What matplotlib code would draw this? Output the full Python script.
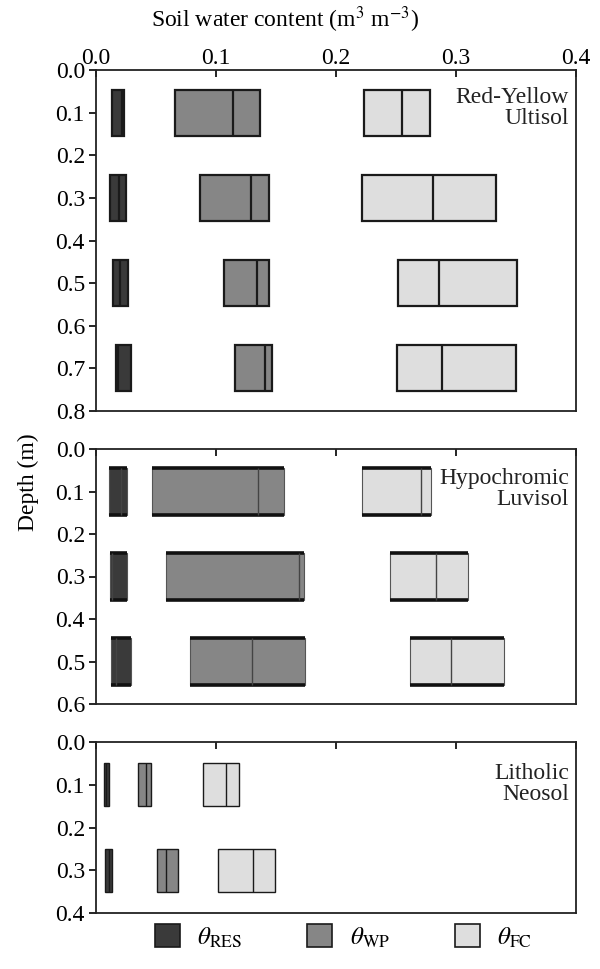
import matplotlib
matplotlib.use("Agg")
import matplotlib.pyplot as plt
from matplotlib.patches import Patch
import numpy as np

plt.rcParams['font.family'] = ['Liberation Serif', 'DejaVu Serif']
plt.rcParams['mathtext.fontset'] = 'stix'

# ---- data (q1, median, q3) per soil, per depth ----
soils = ["Red-Yellow\nUltisol", "Hypochromic\nLuvisol", "Litholic\nNeosol"]
depths_ultisol = [0.1, 0.3, 0.5, 0.7]
depths_luvisol = [0.1, 0.3, 0.5]
depths_neosol = [0.1, 0.3]

ultisol_res = [(0.013, 0.022, 0.023), (0.012, 0.019, 0.025), (0.014, 0.020, 0.027), (0.017, 0.018, 0.029)]
ultisol_wp = [(0.066, 0.114, 0.137), (0.087, 0.129, 0.144), (0.107, 0.134, 0.144), (0.116, 0.141, 0.147)]
ultisol_fc = [(0.223, 0.255, 0.278), (0.222, 0.281, 0.333), (0.252, 0.286, 0.351), (0.251, 0.288, 0.350)]

luvisol_res = [(0.011, 0.021, 0.026), (0.012, 0.013, 0.026), (0.0125, 0.017, 0.029)]
luvisol_wp = [(0.047, 0.135, 0.157), (0.058, 0.169, 0.173), (0.078, 0.130, 0.174)]
luvisol_fc = [(0.222, 0.271, 0.279), (0.245, 0.283, 0.310), (0.262, 0.296, 0.340)]

neosol_res = [(0.0067, 0.0085, 0.0106), (0.0075, 0.011, 0.0133)]
neosol_wp = [(0.035, 0.042, 0.046), (0.051, 0.058, 0.068)]
neosol_fc = [(0.089, 0.108, 0.119), (0.102, 0.131, 0.149)]

depth_limits = [0.8, 0.6, 0.4]
xticks = [0.0, 0.1, 0.2, 0.3, 0.4]
legend_labels = [r'$\theta_{\mathrm{RES}}$', r'$\theta_{\mathrm{WP}}$', r'$\theta_{\mathrm{FC}}$']
colors = ['#3a3a3a', '#868686', '#dedede']

panels = [
    (depths_ultisol, [ultisol_res, ultisol_wp, ultisol_fc]),
    (depths_luvisol, [luvisol_res, luvisol_wp, luvisol_fc]),
    (depths_neosol, [neosol_res, neosol_wp, neosol_fc]),
]

W, H = 600, 969
fig = plt.figure(figsize=(W / 100, H / 100), dpi=100)

ax_px = [(70, 411), (449, 704), (742, 913)]
left_px, right_px = 96, 576
label_top = [0.95, 0.925, 0.875]
box_h = [0.108, 0.11, 0.10]
FS = 17

for i, ((top, bot), (depths, series)) in enumerate(zip(ax_px, panels)):
    ax = fig.add_axes([left_px / W, 1 - bot / H, (right_px - left_px) / W, (bot - top) / H])
    for s, col in zip(series, colors):
        q1 = np.array([v[0] for v in s])
        med = np.array([v[1] for v in s])
        q3 = np.array([v[2] for v in s])
        d = np.array(depths)
        if i == 1:
            ax.barh(d, q3 - q1, left=q1, height=box_h[i], color=col,
                    edgecolor='#555555', linewidth=0.8, zorder=2)
            ax.hlines(d - box_h[i] / 2, q1, q3, color='#111111', lw=2.6, zorder=3)
            ax.hlines(d + box_h[i] / 2, q1, q3, color='#111111', lw=2.6, zorder=3)
            ax.vlines(med, d - box_h[i] / 2, d + box_h[i] / 2, color='#444444', lw=1.0, zorder=3)
        else:
            lw = 1.6 if i == 0 else 1.0
            ax.barh(d, q3 - q1, left=q1, height=box_h[i], color=col,
                    edgecolor='#1a1a1a', linewidth=lw, zorder=2)
            ax.vlines(med, d - box_h[i] / 2, d + box_h[i] / 2, color='#1a1a1a', lw=lw, zorder=3)
    ax.set_xlim(0, 0.4)
    ax.set_ylim(depth_limits[i], 0)
    ax.set_yticks(np.round(np.arange(0, depth_limits[i] + 0.01, 0.1), 1))
    ax.yaxis.set_major_formatter(matplotlib.ticker.FormatStrFormatter('%.1f'))
    ax.set_xticks(xticks)
    ax.xaxis.tick_top()
    ax.tick_params(axis='x', direction='in', length=5, width=1.2, labelsize=FS, pad=1,
                   labeltop=(i == 0), labelbottom=False, bottom=False, top=True)
    ax.tick_params(axis='y', direction='out', length=5, width=1.2, labelsize=FS, pad=3)
    if i == 0:
        ax.xaxis.set_major_formatter(matplotlib.ticker.FormatStrFormatter('%.1f'))
    for sp in ax.spines.values():
        sp.set_linewidth(1.3)
        sp.set_color('#222222')
    ax.text(0.985, label_top[i], soils[i], transform=ax.transAxes, ha='right', va='top',
            fontsize=FS, linespacing=1.0, color='#222222')

fig.text(285 / W, 1 - 20 / H, r'Soil water content (m$^3$ m$^{-3}$)', ha='center', va='center', fontsize=FS)
fig.text(28 / W, 1 - 482 / H, 'Depth (m)', ha='center', va='center', rotation=90, fontsize=FS)

handles = [Patch(facecolor=c, edgecolor='#1a1a1a', linewidth=1.2) for c in colors]
fig.legend(handles, legend_labels, loc='center', bbox_to_anchor=(0.572, 1 - 937 / H), ncol=3,
           frameon=False, fontsize=18, handlelength=1.0, handleheight=1.0, columnspacing=2.6,
           handletextpad=0.7)

fig.savefig('out.png', dpi=100)
